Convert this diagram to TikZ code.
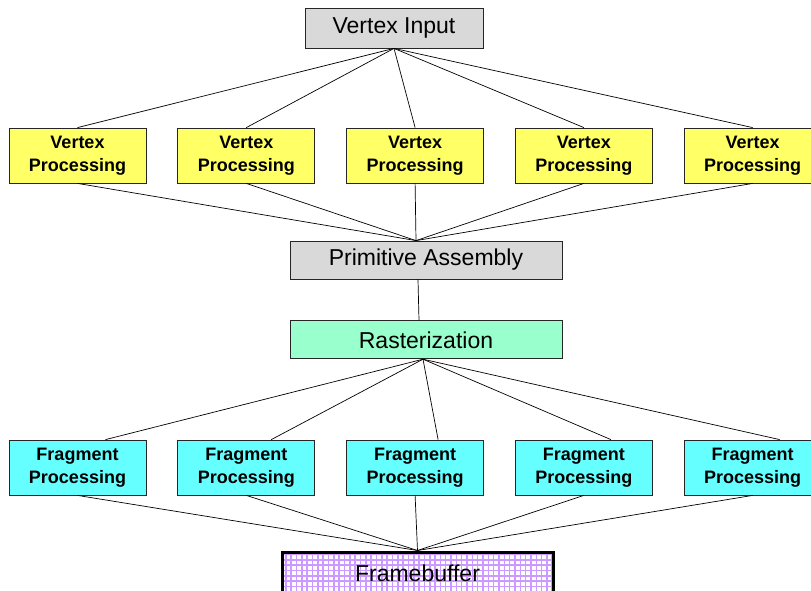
\documentclass[tikz,border=0pt]{standalone}
\usepackage{fontspec}
\setmainfont{Liberation Sans}
\usepackage{xcolor}
\usepackage{tikz}
\usetikzlibrary{positioning}

\definecolor{stagegray}{HTML}{D9D9D9}
\definecolor{vtxyellow}{HTML}{FFFF66}
\definecolor{rastgreen}{HTML}{99FFCC}
\definecolor{fragcyan}{HTML}{66FFFF}
\definecolor{fbgrid}{HTML}{CC99FF}

\tikzset{
  stage/.style={draw=black!85, line width=0.8pt, fill=stagegray, inner sep=0pt,
    minimum width=272pt, minimum height=38pt, font=\fontsize{23}{27}\selectfont},
  procbox/.style={draw=black!85, line width=0.8pt, inner sep=0pt, align=center,
    minimum width=137pt, minimum height=55pt, font=\fontsize{18}{22.5}\selectfont\bfseries},
  vtxbox/.style={procbox, fill=vtxyellow},
  fragbox/.style={procbox, fill=fragcyan},
  wire/.style={line width=0.7pt}
}

\begin{document}
\begin{tikzpicture}[x=1pt, y=-1pt]
			\useasboundingbox (0,0) rectangle (811,591);
			\node[stage, minimum width=178pt, minimum height=40pt] (vin) at (394,28) {Vertex Input};
			\node[vtxbox] (vp1) at (77.5,155.5) {Vertex\\Processing};
			\node[vtxbox, right = 31pt of vp1] (vp2) {Vertex\\Processing};
			\node[vtxbox, right = 31pt of vp2] (vp3) {Vertex\\Processing};
			\node[vtxbox, right = 31pt of vp3] (vp4) {Vertex\\Processing};
			\node[vtxbox, right = 31pt of vp4] (vp5) {Vertex\\Processing};
			\node[stage] (pa) at (426,260) {Primitive Assembly};
			\node[stage, fill=rastgreen, below = 41pt of pa] (rast) {Rasterization};
			\node[fragbox] (fp1) at (77.5,467.5) {Fragment\\Processing};
			\node[fragbox, right = 31pt of fp1] (fp2) {Fragment\\Processing};
			\node[fragbox, right = 31pt of fp2] (fp3) {Fragment\\Processing};
			\node[fragbox, right = 31pt of fp3] (fp4) {Fragment\\Processing};
			\node[fragbox, right = 31pt of fp4] (fp5) {Fragment\\Processing};
			\node[draw, line width=3pt, fill=white, minimum width=271pt, minimum height=42pt,
				font=\fontsize{23}{27}\selectfont,
				path picture={\draw[fbgrid, line width=1.6pt] (path picture bounding box.south west) grid[step=5.33pt] (path picture bounding box.north east);}]
				(fb) at (417.5,573) {Framebuffer};
			% vertex input fan out
			\draw[wire] (vin.south) -- (vp1.north);
			\draw[wire] (vin.south) -- (vp2.north);
			\draw[wire] (vin.south) -- (vp3.north);
			\draw[wire] (vin.south) -- (vp4.north);
			\draw[wire] (vin.south) -- (vp5.north);
			% into primitive assembly
			\draw[wire] (vp1.south) -- ([xshift=-10pt]pa.north);
			\draw[wire] (vp2.south) -- ([xshift=-10pt]pa.north);
			\draw[wire] (vp3.south) -- ([xshift=-10pt]pa.north);
			\draw[wire] (vp4.south) -- ([xshift=-10pt]pa.north);
			\draw[wire] (vp5.south) -- ([xshift=-10pt]pa.north);
			\draw[wire] ([xshift=-8pt]pa.south) -- ([xshift=-7pt]rast.north);
			% rasterization fan out
			\draw[wire] ([xshift=-3pt]rast.south) -- ([xshift=28pt]fp1.north);
			\draw[wire] ([xshift=-3pt]rast.south) -- ([xshift=25pt]fp2.north);
			\draw[wire] ([xshift=-3pt]rast.south) -- ([xshift=23pt]fp3.north);
			\draw[wire] ([xshift=-3pt]rast.south) -- ([xshift=27pt]fp4.north);
			\draw[wire] ([xshift=-3pt]rast.south) -- ([xshift=27pt]fp5.north);
			% into framebuffer
			\draw[wire] (fp1.south) -- (fb.north);
			\draw[wire] (fp2.south) -- (fb.north);
			\draw[wire] (fp3.south) -- (fb.north);
			\draw[wire] (fp4.south) -- (fb.north);
			\draw[wire] (fp5.south) -- (fb.north);
		\end{tikzpicture}
\end{document}
